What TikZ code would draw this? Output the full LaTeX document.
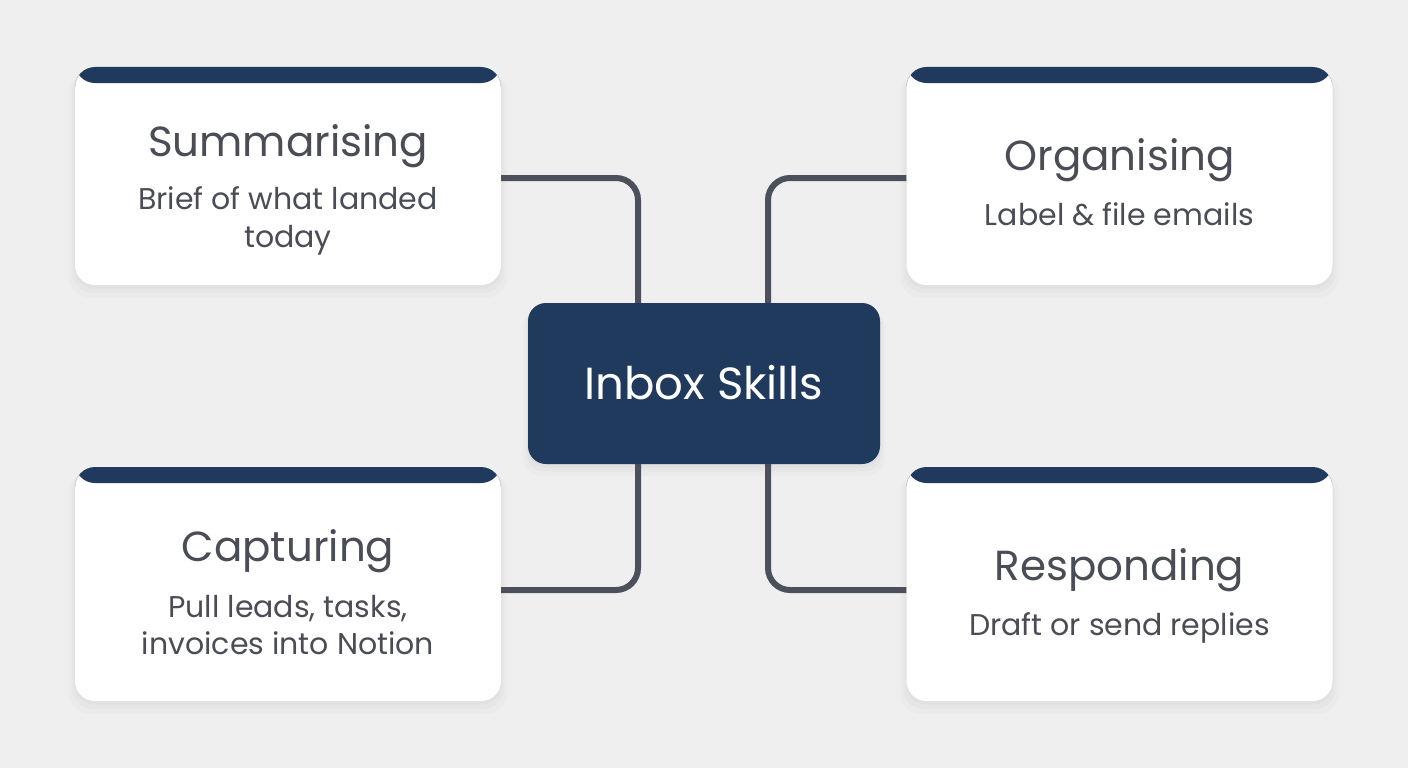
\documentclass[tikz,border=0pt]{standalone}
\usepackage{fontspec}
\setmainfont{Poppins}
\usetikzlibrary{shadows}
\definecolor{bg}{HTML}{EFEFF0}
\definecolor{navy}{HTML}{1F3A5C}
\definecolor{ink}{HTML}{4A4D55}
\definecolor{wire}{HTML}{4B505C}
\begin{document}
\begin{tikzpicture}[x=1pt,y=-1pt,
  softshadow/.style={
    general shadow={fill=black,opacity=0.02,shadow yshift=-3pt,shadow scale=1.005},
    general shadow={fill=black,opacity=0.02,shadow yshift=-6pt,shadow scale=1.015},
    general shadow={fill=black,opacity=0.015,shadow yshift=-9pt,shadow scale=1.03}},
  card/.style={rounded corners=20pt, fill=white, minimum width=426pt, minimum height=218pt,
    inner sep=0pt, softshadow,
    path picture={\fill[navy] (path picture bounding box.north west) rectangle ([yshift=-16pt]path picture bounding box.north east);}},
  hubbox/.style={rounded corners=18pt, fill=navy, minimum width=352pt, minimum height=161pt,
    inner sep=0pt, softshadow},
  title/.style={anchor=base, text=ink, inner sep=0pt, font=\fontsize{42}{50}\selectfont},
  sub/.style={anchor=base, text=ink, inner sep=0pt, font=\fontsize{30}{36}\selectfont},
  wirestyle/.style={draw=wire, line width=6pt, rounded corners=22pt}
]
\fill[bg] (0,0) rectangle (1408,768);
\useasboundingbox (0,0) rectangle (1408,768);

\node[card] (tl) at (288,176) {};
\node[card] (tr) at (1119.5,176) {};
\node[card, minimum height=234pt] (bl) at (288,584) {};
\node[card, minimum height=234pt] (br) at (1119.5,584) {};
\node[hubbox] (hub) at (704,383.5) {};
\node[anchor=base, text=white, inner sep=0pt, font=\fontsize{45}{54}\selectfont] (hubt) at (704,399) {Inbox Skills};

\draw[wirestyle] ([yshift=-2pt]tl.east) -| ([xshift=-66pt]hub.north);
\draw[wirestyle] ([yshift=-2pt]tr.west) -| ([xshift=64pt]hub.north);
\draw[wirestyle] ([xshift=-66pt]hub.south) |- ([yshift=-6pt]bl.east);
\draw[wirestyle] ([xshift=64pt]hub.south) |- ([yshift=-6pt]br.west);

\node[title] (tlt) at (288,156) {Summarising};
\node[sub] (tls1) at (288,209) {Brief of what landed};
\node[sub] (tls2) at (288,247) {today};

\node[title] (trt) at (1119.5,170) {Organising};
\node[sub] (trs1) at (1119.5,225) {Label \& file emails};

\node[title] (blt) at (288,561) {Capturing};
\node[sub] (bls1) at (288,617) {Pull leads, tasks,};
\node[sub] (bls2) at (288,654) {invoices into Notion};

\node[title] (brt) at (1119.5,580) {Responding};
\node[sub] (brs1) at (1119.5,635) {Draft or send replies};
\end{tikzpicture}
\end{document}
